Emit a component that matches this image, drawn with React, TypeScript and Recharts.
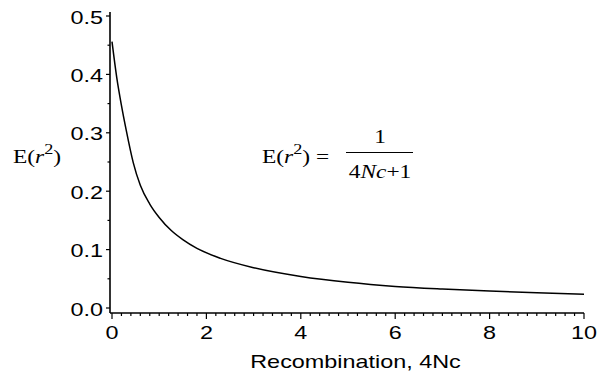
import { LineChart, Line, XAxis, YAxis } from "recharts";

// values
const recombination = [0, 0.1, 0.2, 0.3, 0.45, 0.6, 0.8, 1, 1.25, 1.5, 1.8, 2.3, 3, 4, 5, 6, 7, 8, 9, 10];
const expectedR2 = [0.456, 0.395, 0.347, 0.305, 0.249, 0.21, 0.178, 0.155, 0.133, 0.117, 0.102, 0.085, 0.069, 0.054, 0.044, 0.037, 0.0325, 0.029, 0.026, 0.0235];

const xMajorTicks = [0, 2, 4, 6, 8, 10];
const xAllTicks = [
  0, 0.2, 0.4, 0.6, 0.8, 1, 1.2, 1.4, 1.6, 1.8, 2, 2.2, 2.4, 2.6, 2.8, 3, 3.2, 3.4, 3.6, 3.8,
  4, 4.2, 4.4, 4.6, 4.8, 5, 5.2, 5.4, 5.6, 5.8, 6, 6.2, 6.4, 6.6, 6.8, 7, 7.2, 7.4, 7.6, 7.8,
  8, 8.2, 8.4, 8.6, 8.8, 9, 9.2, 9.4, 9.6, 9.8, 10,
];
const yMajorTicks = [0, 0.1, 0.2, 0.3, 0.4, 0.5];
const yAllTicks = [0, 0.05, 0.1, 0.15, 0.2, 0.25, 0.3, 0.35, 0.4, 0.45, 0.5];

const data = recombination.map((x, i) => ({ x, y: expectedR2[i] }));

const SANS = "'Liberation Sans', Arial, Helvetica, sans-serif";
const SERIF = "'Liberation Serif', 'Times New Roman', serif";
const STRETCH = 1.3; // the original figure is squeezed wide

function XTick({ x, y, payload }: any) {
  const major = xMajorTicks.includes(payload.value);
  return (
    <g>
      <line x1={x} x2={x} y1={y} y2={y + (major ? 6 : 3)} stroke="#000" strokeWidth={1.2} />
      {major && (
        <text transform={`translate(${x},${y + 26}) scale(${STRETCH},1)`} textAnchor="middle"
          fontSize={18} fontFamily={SANS} fill="#000">
          {payload.value}
        </text>
      )}
    </g>
  );
}

function YTick({ x, y, payload }: any) {
  const major = yMajorTicks.includes(payload.value);
  return (
    <g>
      <line x1={x - (major ? 4 : 2.5)} x2={x} y1={y} y2={y} stroke="#000" strokeWidth={1.2} />
      {major && (
        <text transform={`translate(${x - 7},${y + 7.5}) scale(${STRETCH},1)`} textAnchor="end"
          fontSize={18} fontFamily={SANS} fill="#000">
          {payload.value.toFixed(1)}
        </text>
      )}
    </g>
  );
}

export default function App() {
  return (
    <div style={{ position: "absolute", left: 0, top: 0, width: 603, height: 377, background: "#fff" }}>
      <LineChart width={603} height={377} data={data} margin={{ top: 12, right: 19, bottom: 0, left: 0 }}>
        <XAxis
          dataKey="x"
          type="number"
          domain={[0, 10]}
          ticks={xAllTicks}
          interval={0}
          padding={{ left: 2, right: 0 }}
          height={64}
          tickSize={0}
          tickMargin={0}
          tick={<XTick />}
          axisLine={{ stroke: "#000", strokeWidth: 1.6 }}
        />
        <YAxis
          type="number"
          domain={[0, 0.5]}
          ticks={yAllTicks}
          interval={0}
          padding={{ top: 4, bottom: 5 }}
          width={110}
          tickSize={0}
          tickMargin={0}
          tick={<YTick />}
          axisLine={{ stroke: "#000", strokeWidth: 1.6 }}
        />
        <Line type="monotone" dataKey="y" stroke="#000" strokeWidth={1.5} dot={false} isAnimationActive={false} />
      </LineChart>

      <svg width={603} height={377} style={{ position: "absolute", left: 0, top: 0, pointerEvents: "none" }}>
        {/* y axis title */}
        <text transform={`translate(13,163) scale(${STRETCH},1)`} fontSize={18} fontFamily={SERIF} fill="#000">
          E(<tspan fontStyle="italic">r</tspan>
          <tspan fontSize={14} dy={-9}>2</tspan>
          <tspan dy={9}>)</tspan>
        </text>

        {/* formula */}
        <text transform={`translate(262,163) scale(${STRETCH},1)`} fontSize={18} fontFamily={SERIF} fill="#000">
          E(<tspan fontStyle="italic">r</tspan>
          <tspan fontSize={14} dy={-9}>2</tspan>
          <tspan dy={9}>) =</tspan>
        </text>
        <text transform={`translate(380,143) scale(${STRETCH},1)`} textAnchor="middle" fontSize={18} fontFamily={SERIF} fill="#000">
          1
        </text>
        <line x1={346} x2={413} y1={152.5} y2={152.5} stroke="#000" strokeWidth={1.2} />
        <text transform={`translate(380,178) scale(${STRETCH},1)`} textAnchor="middle" fontSize={18} fontFamily={SERIF} fill="#000">
          4<tspan fontStyle="italic">Nc</tspan>+1
        </text>

        {/* x axis title */}
        <text transform={`translate(355.5,368) scale(${STRETCH},1)`} textAnchor="middle" fontSize={18} fontFamily={SANS} fill="#000">
          Recombination, 4Nc
        </text>
      </svg>
    </div>
  );
}
